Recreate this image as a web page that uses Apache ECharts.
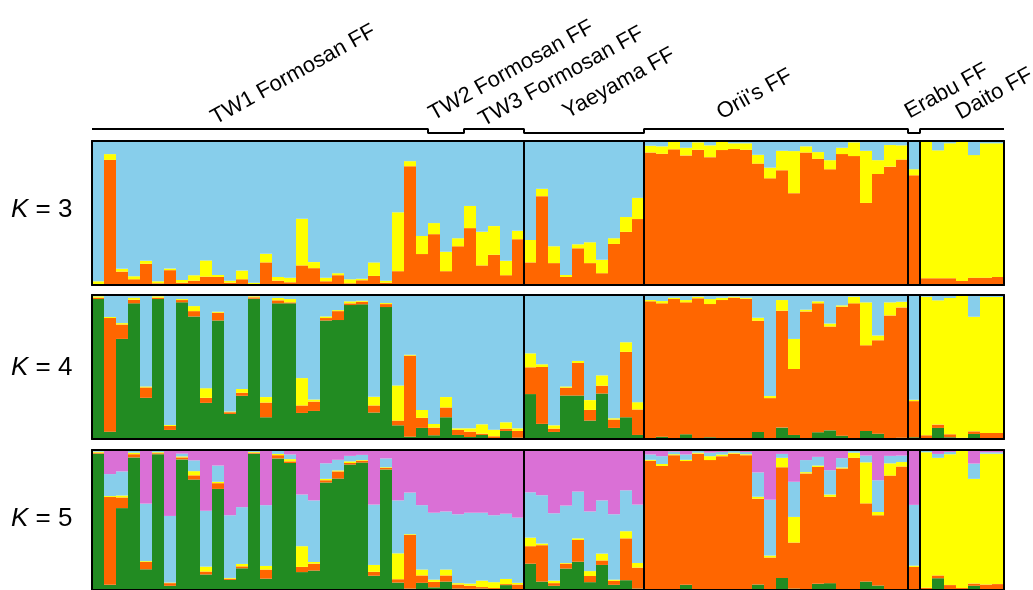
<!DOCTYPE html>
<html><head><meta charset="utf-8">
<script src="https://cdn.jsdelivr.net/npm/echarts@6/dist/echarts.min.js"></script>
<style>html,body{margin:0;padding:0;background:#fff}#c{width:1033px;height:590px}</style>
</head><body><div id="c"></div>
<script>
// ---------------- DATA ----------------
const groups = ['TW1 Formosan FF','TW2 Formosan FF','TW3 Formosan FF','Yaeyama FF',"Orii's FF",'Erabu FF','Daito FF'];
const groupSizes = [28,3,5,10,22,1,7];
const bracketLevel = [1,0,1,0,1,0,1];          // upper / lower bracket step
const separatedGroups = [3,4,5,6];             // a vertical line before these groups
const panelK = ['3','4','5'];

// K = 3 : orange, yellow, blue
const k3Orange = [.007,.869,.093,.040,.147,.012,.103,.016,.030,.058,.056,.016,.040,.007,.157,.030,.019,.136,.117,.026,.068,.012,.033,.063,.016,.096,.825,.215, .353,.096,.269, .395,.136,.210,.068,.318, .157,.617,.152,.056,.255,.152,.082,.285,.369,.458, .920,.911,.942,.900,.939,.888,.937,.944,.939,.843,.741,.797,.638,.920,.876,.804,.909,.895,.570,.771,.822,.871, .762, .047,.047,.047,.028,.051,.051,.056];
const k3Yellow = [.019,.040,.019,.021,.021,.014,.011,.019,.038,.113,.014,.014,.060,.009,.060,.026,.032,.324,.042,.025,.014,.028,.011,.094,.014,.409,.035,.126, .077,.135,.056, .154,.233,.199,.100,.058, .156,.051,.117,.014,.028,.145,.093,.040,.103,.147, .047,.052,.051,.053,.052,.082,.058,.040,.045,.061,.074,.135,.292,.043,.047,.063,.044,.096,.362,.096,.150,.099, .042, .948,.888,.937,.967,.851,.933,.928];
const k3Blue = [.974,.091,.888,.939,.832,.974,.886,.965,.932,.829,.930,.970,.900,.984,.783,.944,.949,.540,.841,.949,.918,.960,.956,.843,.970,.495,.140,.659, .570,.769,.675, .451,.631,.591,.832,.624, .687,.332,.731,.930,.717,.703,.825,.675,.528,.395, .033,.037,.007,.047,.009,.030,.005,.016,.016,.096,.185,.068,.070,.037,.077,.133,.047,.009,.068,.133,.028,.030, .196, .005,.065,.016,.005,.098,.016,.016];

// K = 4 : green, orange, yellow, blue
const k4Green = [.972,.051,.695,.942,.286,.972,.063,.949,.851,.251,.823,.174,.300,.974,.151,.942,.942,.181,.195,.823,.826,.930,.935,.184,.916,.095,.016,.077, .026,.151,.028, .014,.028,.005,.056,.009, .312,.105,.049,.302,.302,.128,.316,.077,.151,.028, .005,.016,.005,.033,.005,.012,.005,.005,.005,.049,.005,.079,.028,.007,.047,.060,.023,.005,.056,.037,.005,.009, .012, .005,.077,.012,.005,.035,.005,.005];
const k4Orange = [.009,.789,.100,.025,.072,.009,.028,.016,.037,.035,.054,.012,.021,.010,.102,.021,.007,.052,.065,.017,.062,.012,.018,.049,.021,.033,.563,.070, .053,.068,.035, .037,.009,.014,.016,.047, .186,.395,.023,.054,.226,.074,.054,.058,.454,.177, .951,.926,.967,.916,.972,.925,.960,.976,.969,.772,.279,.812,.458,.879,.895,.721,.896,.937,.595,.649,.853,.905, .251, .021,.023,.021,.004,.018,.037,.037];
const k4Yellow = [.010,.007,.010,.014,.007,.010,.007,.007,.035,.067,.007,.005,.026,.007,.038,.016,.023,.190,.014,.011,.007,.014,.007,.060,.007,.244,.006,.055, .026,.072,.011, .023,.065,.046,.044,.018, .097,.019,.023,.009,.014,.068,.072,.009,.067,.051, .009,.016,.009,.016,.011,.035,.016,.007,.007,.021,.014,.074,.209,.012,.014,.021,.009,.046,.298,.033,.091,.039, .009, .962,.863,.946,.986,.796,.944,.944];
const k4Blue = [.009,.153,.195,.019,.635,.009,.902,.028,.077,.647,.116,.809,.653,.009,.709,.021,.028,.577,.726,.149,.105,.044,.040,.707,.056,.628,.415,.798, .895,.709,.926, .926,.898,.935,.884,.926, .405,.481,.905,.635,.458,.730,.558,.856,.328,.744, .035,.042,.019,.035,.012,.028,.019,.012,.019,.158,.702,.035,.305,.102,.044,.198,.072,.012,.051,.281,.051,.047, .728, .012,.037,.021,.005,.151,.014,.014];

// K = 5 : green, orange, yellow, blue, pink
const k5Green = [.974,.037,.585,.947,.148,.970,.030,.933,.789,.111,.722,.072,.155,.974,.081,.940,.907,.128,.139,.768,.796,.896,.910,.102,.861,.053,.010,.051, .019,.060,.010, .008,.010,.005,.035,.007, .188,.060,.030,.153,.202,.056,.179,.037,.070,.010, .004,.004,.004,.037,.004,.004,.004,.004,.004,.039,.004,.086,.010,.004,.044,.049,.004,.004,.060,.032,.004,.004, .004, .004,.084,.004,.004,.030,.004,.004];
const k5Orange = [.007,.627,.076,.023,.052,.007,.019,.014,.030,.021,.041,.009,.014,.007,.065,.023,.012,.037,.049,.016,.051,.011,.013,.028,.011,.024,.384,.053, .039,.044,.029, .022,.011,.009,.007,.032, .125,.260,.019,.035,.155,.044,.032,.028,.299,.150, .919,.882,.959,.884,.970,.924,.952,.970,.959,.613,.228,.791,.329,.829,.835,.617,.864,.940,.559,.502,.813,.878, .161, .012,.020,.031,.010,.016,.035,.038];
const k5Yellow = [.007,.007,.014,.011,.006,.007,.004,.007,.030,.035,.010,.005,.017,.005,.026,.009,.016,.148,.012,.010,.007,.012,.005,.049,.005,.185,.005,.042, .016,.042,.010, .016,.046,.042,.037,.012, .061,.012,.018,.005,.012,.035,.049,.009,.051,.033, .007,.014,.007,.009,.007,.028,.012,.007,.007,.014,.014,.067,.183,.009,.010,.016,.007,.037,.293,.023,.088,.032, .009, .968,.840,.935,.984,.748,.935,.932];
const k5Blue = [.010,.157,.172,.014,.411,.011,.476,.020,.077,.399,.116,.448,.406,.009,.434,.021,.033,.369,.440,.111,.076,.039,.037,.431,.063,.378,.297,.460, .478,.415,.492, .506,.485,.478,.466,.466, .324,.345,.481,.410,.334,.426,.380,.467,.292,.417, .038,.056,.018,.038,.012,.025,.018,.014,.016,.174,.399,.028,.251,.086,.062,.174,.067,.012,.048,.227,.053,.046, .434, .011,.028,.016,.000,.109,.010,.010];
const k5Pink = [.002,.172,.153,.005,.383,.005,.471,.026,.074,.434,.111,.466,.408,.005,.394,.007,.032,.318,.360,.095,.070,.042,.035,.390,.060,.360,.304,.394, .448,.439,.459, .448,.448,.466,.455,.483, .302,.323,.452,.397,.297,.439,.360,.459,.288,.390, .032,.044,.012,.032,.007,.019,.014,.005,.014,.160,.355,.028,.227,.072,.049,.144,.058,.007,.040,.216,.042,.040, .392, .005,.028,.014,.002,.097,.016,.016];

// ---------------- STYLE / LAYOUT ----------------
const C = {blue:'#87CEEB', orange:'#FF6600', yellow:'#FFFF00', green:'#228B22', pink:'#DA70D6'};
const panels = [
  [[k3Orange,C.orange],[k3Yellow,C.yellow],[k3Blue,C.blue]],
  [[k4Green,C.green],[k4Orange,C.orange],[k4Yellow,C.yellow],[k4Blue,C.blue]],
  [[k5Green,C.green],[k5Orange,C.orange],[k5Yellow,C.yellow],[k5Blue,C.blue],[k5Pink,C.pink]]
];
const panelTop = [141, 295, 450];
const panelH = 144, plotLeft = 92, plotW = 912;
const kLabelY = [210, 368, 519];
const labelAnchor = [[218,129],[436,125],[486,131],[570,123],[724,124],[912,123],[963,124]];
const labelRot = 29;
const FONT = '"Liberation Sans", Arial, sans-serif';

const nInd = groupSizes.reduce((a,b)=>a+b,0);
const individuals = Array.from({length:nInd}, (_, i) => 'i' + (i + 1));
const groupStart = []; let acc = 0;
groupSizes.forEach(s => { groupStart.push(acc); acc += s; });

const grid = [], xAxis = [], yAxis = [], series = [];
const line = {show:true, onZero:false, lineStyle:{color:'#000', width:2}};
panels.forEach((comps, p) => {
  grid.push({left:plotLeft, top:panelTop[p], width:plotW, height:panelH});
  const xc = xAxis.length;
  xAxis.push({gridIndex:p, type:'category', data:individuals, position:'bottom', axisLine:line, axisTick:{show:false}, axisLabel:{show:false}, z:10});
  const xv = xAxis.length;
  xAxis.push({gridIndex:p, type:'value', min:0, max:nInd, position:'top', axisLine:line, axisTick:{show:false}, axisLabel:{show:false}, splitLine:{show:false}, z:10});
  const yl = yAxis.length;
  yAxis.push({gridIndex:p, type:'value', min:0, max:1, position:'left', axisLine:line, axisTick:{show:false}, axisLabel:{show:false}, splitLine:{show:false}, z:10});
  yAxis.push({gridIndex:p, type:'value', min:0, max:1, position:'right', axisLine:line, axisTick:{show:false}, axisLabel:{show:false}, splitLine:{show:false}, z:10});
  comps.forEach(([vals, col]) => {
    series.push({type:'bar', stack:'k'+p, xAxisIndex:xc, yAxisIndex:yl, data:vals, barWidth:'100%', barCategoryGap:'0%',
      itemStyle:{color:col}, silent:true});
  });
  series.push({type:'line', xAxisIndex:xv, yAxisIndex:yl, data:[], z:10,
    markLine:{silent:true, symbol:['none','none'], label:{show:false}, animation:false,
      lineStyle:{color:'#000', width:2, type:'solid'},
      data: separatedGroups.map(g => ({xAxis: groupStart[g]}))}});
});
// bracket line above the panels
const gb = grid.length;
grid.push({left:plotLeft, top:129, width:plotW, height:4});
const bx = xAxis.length; xAxis.push({gridIndex:gb, type:'value', min:0, max:nInd, show:false});
const by = yAxis.length; yAxis.push({gridIndex:gb, type:'value', min:0, max:1, show:false});
const bracket = [];
groupSizes.forEach((s, g) => { bracket.push([groupStart[g], bracketLevel[g]]); bracket.push([groupStart[g] + s, bracketLevel[g]]); });
series.push({type:'line', xAxisIndex:bx, yAxisIndex:by, data:bracket, symbol:'none', lineStyle:{color:'#000', width:2}, silent:true});

const graphic = [];
groups.forEach((g, i) => {
  graphic.push({type:'text', x:labelAnchor[i][0], y:labelAnchor[i][1], rotation:labelRot*Math.PI/180,
    style:{text:g, fontSize:22, fontFamily:FONT, fill:'#000', textAlign:'left', textVerticalAlign:'bottom'}});
});
panelK.forEach((k, p) => {
  graphic.push({type:'text', x:11, y:kLabelY[p],
    style:{text:'{i|K} = ' + k, fontSize:26, fontFamily:FONT, fill:'#000', textAlign:'left', textVerticalAlign:'middle',
      rich:{i:{fontStyle:'italic', fontSize:26, fontFamily:FONT, fill:'#000'}}}});
});

const chart = echarts.init(document.getElementById('c'));
chart.setOption({animation:false, grid, xAxis, yAxis, series, graphic});
</script></body></html>
